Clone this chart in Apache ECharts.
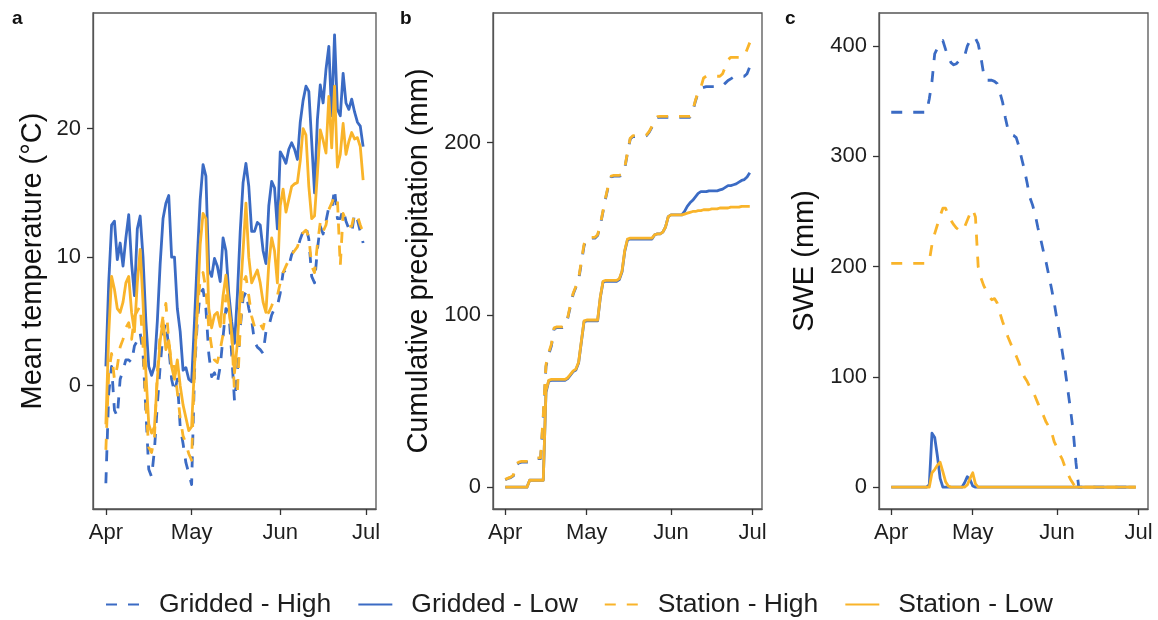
<!DOCTYPE html>
<html>
<head>
<meta charset="utf-8">
<script src="https://cdn.jsdelivr.net/npm/echarts@6/dist/echarts.min.js"></script>
<style>
html,body{margin:0;padding:0;background:#fff;}
#chart{width:1158px;height:620px;}
</style>
</head>
<body>
<div id="chart"></div>
<script>
// Day index 0 = 1 April, 90 = 30 June
const monthTicks = [0, 30, 61, 91];
const monthLabels = ['Apr', 'May', 'Jun', 'Jul'];
const seriesNames = ['Gridded - High', 'Gridded - Low', 'Station - High', 'Station - Low'];
const panelLetters = ['a', 'b', 'c'];
const axisTitles = ['Mean temperature (°C)', 'Cumulative precipitation (mm)', 'SWE (mm)'];
const tempTicks = [0, 10, 20];
const precipTicks = [0, 100, 200];
const sweTicks = [0, 100, 200, 300, 400];

// Panel a: mean temperature (°C)
const tempGriddedHigh = [-7.6,-0.6,1.5,-1.9,-2.4,0.5,1.2,2,2,1.8,3.1,3.5,4.1,2.5,-2,-6.5,-7.1,-5,-1.5,1.5,4.1,4.9,3,0.5,-0.5,0.5,-3.2,-4.5,-6,-6.8,-7.7,1,5,7.2,7.5,6,2.5,0.7,1,0.2,1.5,3.8,6,5.8,2.5,-1.2,1,4.5,6.8,7.3,6,5.1,3.4,3,2.8,2.5,4.2,4.6,5.5,6,6.2,7.2,8.8,9,9.3,10.2,10.6,10.6,11.4,12,12.4,11.4,8.5,8,10.6,12.4,11.8,12.8,13.9,13.7,15.3,13,13,13.7,12.8,12.2,11.9,13.4,12.9,12,11.1];
const tempGriddedLow = [1.5,8,12.5,12.8,9.8,11.1,9.3,11.5,13.3,9.5,7,12.2,13.2,10,5,1.5,0.8,1.5,5,9.5,13,14.2,14.8,10,10,6,4.2,1.2,1.4,0.5,0.3,5,10,14.5,17.2,16.3,9,8.5,9.9,9.3,8.1,11.5,10.5,7.2,5,3.3,7,12,15.8,17.3,15.5,12,12,12.7,12.5,10.5,9.5,14,15.9,15.4,12.2,18.2,17.8,17.3,18.4,18.9,18.4,17.6,20.5,22.2,23.3,22.9,19,15,20.7,23.4,22,24.6,26.4,21,27.3,21.5,21,24.3,22,21.5,22.3,21.3,20.5,20.2,18.6];
const tempStationHigh = [-5,1,2.5,0.5,1.5,3,3.6,4.5,4.9,3.6,5.4,5.8,6.2,3.1,-1.5,-4.8,-5.2,-4,1,4,5.4,6.4,3.5,1.5,1.5,-0.5,-2.5,-3.9,-4.5,-5.3,-5.8,1.5,6,8.2,8.8,7.5,4.5,3,2,1.8,2.8,4,7,6,4.1,-0.5,-0.6,4.5,8,8.5,7,5.4,4.6,5,4.8,4.4,5.6,5.7,6.2,6.8,7,8,8.8,9.3,9.8,10.2,10.5,10.8,11.5,11.9,12.1,11.6,9.3,8.8,11,12.7,12,12.5,13.7,14.2,14.8,14.5,9.3,13.4,12.8,12.4,12.4,13.4,13.2,12.5,11.9];
const tempStationLow = [-3,4,8.5,7.5,6,5.7,6.5,8,8.5,5.7,4.2,8,10.6,6.5,1,-3,-3.7,-3.2,0.5,3.5,5.1,2.8,3.5,1.5,0.5,2,0,-1.5,-2.5,-3.5,-3.2,1.5,6,11,13.4,13,6,4.5,5.5,5.7,4.6,7,8.6,6.3,4.1,1,3.3,7,10.5,14.2,10,8,8.5,9,8,6.5,5.7,9.5,11.5,10.5,8,14,15.3,13.5,14.5,15.5,15.7,15.8,17.5,20,19.5,15.5,13,13.2,16.5,19.9,19.1,18.1,22.5,18.5,23.3,17,18,20.4,18,19,19.7,19.2,19.3,18.6,16];

// Panel b: cumulative precipitation (mm)
const precipGriddedHigh = [4.3,5,5.5,6.5,13,14,14.5,14.5,14.5,14.5,16,16.5,16.5,16.5,40,70,77,82,92,92.6,92.6,92.6,93,98,105,112,116,120,130,140,144.5,144.5,144.5,144.5,146,152,160,168,175,180,180.5,180.5,180.5,181,185,194,202,203.5,203.5,203.5,203.5,203.5,204,206,209,213,214.5,214.7,214.7,214.7,214.7,214.7,214.7,214.7,214.7,214.7,214.7,214.7,214.7,218,224,229,231.5,232,232.5,232.5,232.5,232.5,232.5,232.5,233,234.5,236,237,238,238.5,238.5,238.5,238.5,240,244];
const precipGriddedLow = [0,0,0,0,0,0,0,0,0,4,4,4,4,4,4,55,61.5,62,62,62,62,62,62,63,65,67,68,72,84,96,96.5,96.5,96.5,96.5,96.5,110,119,119.5,119.5,119.5,119.5,119.5,120.5,125,137,143.5,144,144,144,144,144,144,144,144,144,146.5,147,147,148,151,157,158,158,158,158,158,160,163,165,166.5,168.5,170.5,171.5,171.5,171.5,172,172,172,172,172.5,173,174,175,175,175.5,176,177,178,178.5,180,182.5];
const precipStationHigh = [4.5,5.2,5.8,7,13.5,14.5,15,15,15,15,16.5,17,17,17,42,71,78,83,92.5,93,93,93,93.5,98.5,106,112.5,116.5,121,131,141,145,145,145,145,146.5,152.5,160.5,168.5,175.5,180.5,181,181,181,181.5,185.5,194.5,202.5,204,204,204,204,204,204.5,206.5,209.5,213.5,215,215.2,215.2,215.2,215.2,215.2,215.2,215.2,215.2,215.2,215.2,215.2,215.2,218.5,224.5,229.5,232,237.5,238.5,238.5,238.5,238.5,238.5,238.5,240,244,248,249.5,249.5,249.5,249.5,249.5,250,254,258];
const precipStationLow = [0,0,0,0,0,0,0,0,0,4,4,4,4,4,4,56,62,62.5,62.5,62.5,62.5,62.5,62.5,63.5,65.5,67.5,68.5,72.5,84.5,96.5,97,97,97,97,97,110.5,119.5,120,120,120,120,120,121,125.5,137.5,144,144.5,144.5,144.5,144.5,144.5,144.5,144.5,144.5,144.5,146.5,147,147,148,151,157,158,158,158,158,158,158.5,159,159.5,160,160,160.5,160.5,161,161,161,161.5,161.5,161.5,162,162,162,162,162.5,162.5,162.5,162.5,163,163,163,163];

// Panel c: snow water equivalent (mm)
const sweGriddedHigh = [340,340,340,340,340,340,340,340,340,340,340,340,340,340,352,368,393,398,403,405,397,390,385,383,384,387,389,391,400,405,408,407,402,390,375,369,369,369,368,366,358,349,335,324,320,319,317,309,298,288,276,263,256,247,235,225,214,204,192,180,167,152,138,122,106,88,70,50,22,0,0,0,0,0,0,0,0,0,0,0,0,0,0,0,0,0,0,0,0,0,0];
const sweGriddedLow = [0,0,0,0,0,0,0,0,0,0,0,0,0,0,2,49,45,28,8,0,0,0,0,0,0,0,0,4,9.5,7,1,0,0,0,0,0,0,0,0,0,0,0,0,0,0,0,0,0,0,0,0,0,0,0,0,0,0,0,0,0,0,0,0,0,0,0,0,0,0,0,0,0,0,0,0,0,0,0,0,0,0,0,0,0,0,0,0,0,0,0,0];
const sweStationHigh = [203,203,203,203,203,203,203,203,203,203,203,203,203,203,205,220,230,238,246,253,253,247,242,238,235,233,232,236,242,248,252,245,200,190,183,178,173,170,171,167,158,150,143,136,130,124,119,113,106,100,96,91,88,82,76,70,65,59,55,50,41,36,30,25,18,12,7,3,0,0,0,0,0,0,0,0,0,0,0,0,0,0,0,0,0,0,0,0,0,0,0];
const sweStationLow = [0,0,0,0,0,0,0,0,0,0,0,0,0,0,0,13,16,20,22.5,14,5,1,0,0,0,0,0,0,2,8,13,3,0,0,0,0,0,0,0,0,0,0,0,0,0,0,0,0,0,0,0,0,0,0,0,0,0,0,0,0,0,0,0,0,0,0,0,0,0,0,0,0,0,0,0,0,0,0,0,0,0,0,0,0,0,0,0,0,0,0,0];

const FONT = '"Liberation Sans", Arial, Helvetica, sans-serif';
const BLUE = '#3b6bc4';
const ORANGE = '#f9b42a';
const styles = {
  'Gridded - High': {color: BLUE, dash: [11, 11]},
  'Gridded - Low': {color: BLUE, dash: 'solid'},
  'Station - High': {color: ORANGE, dash: [11, 11]},
  'Station - Low': {color: ORANGE, dash: 'solid'}
};

const panelData = [
  [tempGriddedHigh, tempGriddedLow, tempStationHigh, tempStationLow],
  [precipGriddedHigh, precipGriddedLow, precipStationHigh, precipStationLow],
  [sweGriddedHigh, sweGriddedLow, sweStationHigh, sweStationLow]
];

const grids = [
  {left: 93, top: 13, width: 283, height: 496},
  {left: 493, top: 13, width: 269, height: 496},
  {left: 879, top: 13, width: 269, height: 496}
];
const yRanges = [[-9.6, 29.0], [-12.7, 275.2], [-19.8, 430]];
const yTicks = [tempTicks, precipTicks, sweTicks];
const nameGaps = [46, 60, 60];

const frameColor = '#555';
const tickColor = '#333';
const labelColor = '#1e1e1e';

const option = {
  animation: false,
  backgroundColor: '#fff',
  textStyle: {fontFamily: FONT},
  grid: grids.map(g => Object.assign({show: true, borderColor: frameColor, borderWidth: 1.3, backgroundColor: 'transparent', containLabel: false, outerBoundsMode: 'none'}, g)),
  xAxis: grids.map((g, i) => ({
    type: 'value', gridIndex: i, min: -4.5, max: 94.5,
    axisLine: {show: true, onZero: false, lineStyle: {color: frameColor, width: 1.3}},
    splitLine: {show: false},
    axisTick: {show: true, length: 6, customValues: monthTicks, lineStyle: {color: tickColor, width: 1.3}},
    axisLabel: {
      show: true, customValues: monthTicks,
      formatter: v => monthLabels[monthTicks.indexOf(v)] || '',
      fontSize: 22, color: labelColor, margin: 13, fontFamily: FONT
    }
  })),
  yAxis: grids.map((g, i) => ({
    type: 'value', gridIndex: i, min: yRanges[i][0], max: yRanges[i][1],
    axisLine: {show: true, onZero: false, lineStyle: {color: frameColor, width: 1.3}},
    splitLine: {show: false},
    axisTick: {show: true, length: 6, customValues: yTicks[i], lineStyle: {color: tickColor, width: 1.3}},
    axisLabel: {show: true, customValues: yTicks[i], fontSize: 22, color: labelColor, margin: 12, fontFamily: FONT},
    name: axisTitles[i], nameLocation: 'middle', nameGap: nameGaps[i],
    nameTextStyle: {fontSize: 29, color: '#111', fontFamily: FONT}
  })),
  legend: {
    data: seriesNames,
    left: 'center', top: 586,
    itemWidth: 34, itemHeight: 24, itemGap: 26,
    itemStyle: {opacity: 0},
    textStyle: {fontSize: 26.5, color: '#1e1e1e', fontFamily: FONT, padding: [0, 0, 0, 14]}
  },
  graphic: panelLetters.map((t, i) => ({
    type: 'text',
    left: [12, 400, 785][i], top: 9,
    style: {text: t, font: 'bold 19px ' + FONT, fill: '#111'}
  })),
  series: []
};

panelData.forEach((arrs, p) => {
  arrs.forEach((arr, k) => {
    const name = seriesNames[k];
    const st = styles[name];
    option.series.push({
      type: 'line', name: name,
      xAxisIndex: p, yAxisIndex: p,
      data: arr.map((v, i) => [i, v]),
      symbol: 'none', showSymbol: false,
      smooth: false,
      color: st.color,
      lineStyle: {color: st.color, width: 2.8, type: st.dash, cap: 'butt', join: 'round'},
      z: 2 + k
    });
  });
});

const chart = echarts.init(document.getElementById('chart'), null, {renderer: 'canvas'});
chart.setOption(option);
</script>
</body>
</html>
